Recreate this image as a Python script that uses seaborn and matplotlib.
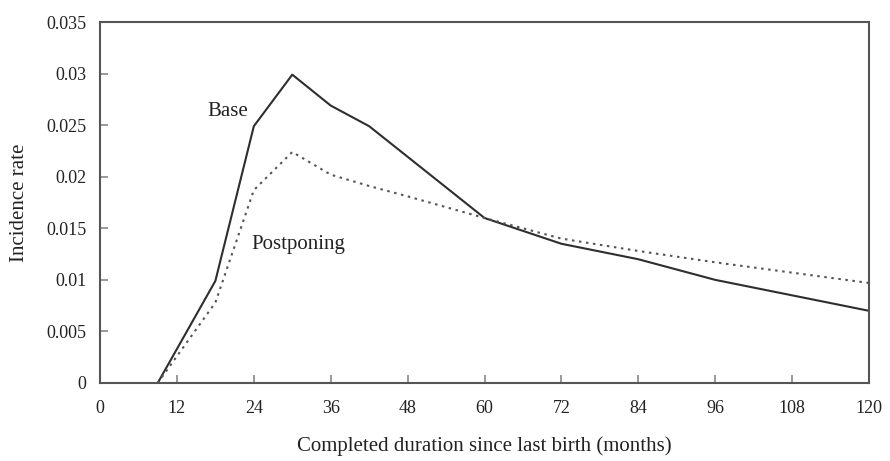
import matplotlib
matplotlib.use("Agg")
import matplotlib.pyplot as plt
import seaborn as sns
import pandas as pd

base_months = [9, 18, 24, 30, 36, 42, 60, 72, 84, 96, 108, 120]
base_rate = [0.0, 0.0099, 0.0249, 0.0299, 0.0269, 0.0249, 0.0160, 0.0135, 0.0120, 0.0100, 0.0085, 0.0070]

post_months = [9, 18, 24, 30, 36, 42, 48, 60, 72, 84, 96, 108, 120]
post_rate = [0.0, 0.0078, 0.0187, 0.0224, 0.0202, 0.0191, 0.0181, 0.0160, 0.0140, 0.0128, 0.0117, 0.0107, 0.0097]

x_ticks = [0, 12, 24, 36, 48, 60, 72, 84, 96, 108, 120]
y_ticks = [0, 0.005, 0.01, 0.015, 0.02, 0.025, 0.03, 0.035]
y_tick_labels = ["0", "0.005", "0.01", "0.015", "0.02", "0.025", "0.03", "0.035"]

df = pd.concat([
    pd.DataFrame({"month": base_months, "rate": base_rate, "series": "Base"}),
    pd.DataFrame({"month": post_months, "rate": post_rate, "series": "Postponing"}),
])

sns.set_theme(style="white")
plt.rcParams["font.family"] = ["Liberation Serif", "DejaVu Serif"]

fig = plt.figure(figsize=(8.9, 4.61), dpi=100)
ax = fig.add_axes([0.1124, 0.1692, 0.864, 0.783])

line_color = "#2e2e2e"
sns.lineplot(data=df[df.series == "Base"], x="month", y="rate", ax=ax,
             color=line_color, linewidth=1.5, legend=False)
sns.lineplot(data=df[df.series == "Postponing"], x="month", y="rate", ax=ax,
             color="#555555", linewidth=1.5, linestyle=(0, (1.2, 2.2)), legend=False)

ax.set_xlim(0, 120)
ax.set_ylim(0, 0.035)
ax.set_xticks(x_ticks)
ax.set_xticklabels([str(t) for t in x_ticks])
ax.set_yticks(y_ticks)
ax.set_yticklabels(y_tick_labels)
ax.tick_params(axis="both", direction="in", length=6, width=1.2, color="#888888",
               labelsize=13, labelcolor="#222222", bottom=True, left=True)
ax.tick_params(axis="x", pad=12)
ax.tick_params(axis="y", pad=10)

for s in ax.spines.values():
    s.set_color("#555555")
    s.set_linewidth(1.5)

ax.set_xlabel("Completed duration since last birth (months)", fontsize=15, color="#222222", labelpad=14)
ax.set_ylabel("Incidence rate", fontsize=15, color="#222222", labelpad=12)

ax.text(16.7, 0.0263, "Base", fontsize=15, color="#222222", ha="left", va="center")
ax.text(23.6, 0.0134, "Postponing", fontsize=15, color="#222222", ha="left", va="center")

fig.savefig("out.png", dpi=100)
